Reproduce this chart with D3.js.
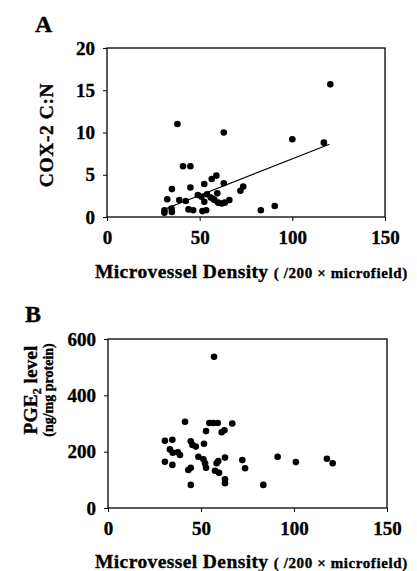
<!DOCTYPE html>
<html>
<head>
<meta charset="utf-8">
<script src="https://cdn.jsdelivr.net/npm/d3@7"></script>
<style>
  body { margin: 0; background: #fff; }
  svg { display: block; font-family: "Liberation Serif", "Times New Roman", serif; font-weight: bold; }
  svg text { stroke: #000; stroke-width: 0.35px; }
  .axis text { font-size: 19px; font-family: "Liberation Serif", serif; font-weight: bold; fill: #000; }
  .axis line, .axis path { stroke: #000; }
</style>
</head>
<body>
<svg id="chart" width="417" height="571"></svg>
<script>
// panel A: COX-2 C:N vs microvessel density
var coxMvd = [120.5, 38, 63, 100, 117, 41, 45, 59, 56.5, 52.5, 63, 35, 45, 73.5, 72,
  32.5, 39, 42.5, 49, 51, 52.5, 56, 57.5, 59.5, 60, 62, 66, 54, 58, 63.5,
  44, 46.5, 51.5, 53.5, 31, 31, 35, 34.8, 83, 90.5];
var coxRatio = [15.7, 11.0, 10.0, 9.2, 8.8, 6.0, 6.0, 4.9, 4.5, 3.9, 4.0, 3.3, 3.5, 3.6, 3.1,
  2.1, 2.0, 1.9, 2.6, 2.4, 1.8, 2.3, 2.1, 2.8, 1.7, 1.6, 2.0, 2.7, 2.0, 1.7,
  0.9, 0.8, 0.7, 0.8, 0.5, 0.8, 0.6, 1.0, 0.8, 1.3];
// fitted line
var fitRange = [32, 120];
var fitSlope = 0.0864, fitIntercept = -1.76;

// panel B: PGE2 level vs microvessel density
var pgeMvd = [57, 41.4, 54.5, 56.6, 59, 66.8, 52.7, 61.1, 62.6, 30.6, 34.6, 44.5, 45.4, 47.2,
  51.6, 33.3, 34.8, 37.5, 38.7, 48.6, 51.3, 52.2, 52.7, 62.9, 59.3, 58.4, 30.6, 34.6,
  43.2, 44.5, 57.5, 59.7, 62.9, 62.9, 44.5, 83.5, 72.2, 73.7, 91.2, 101, 117.7, 120.8];
var pgeLevel = [537, 306, 302, 302, 302, 300, 273, 269, 276, 239, 242, 237, 224, 218,
  228, 208, 196, 198, 188, 182, 173, 159, 143, 179, 167, 159, 164, 153,
  135, 143, 132, 125, 102, 88, 82, 82, 170, 141, 182, 163, 175, 159];

var xTicks = [0, 50, 100, 150];
var coxTicks = [0, 5, 10, 15, 20];
var pgeTicks = [0, 200, 400, 600];

var svg = d3.select('#chart');

function drawPanel(opts) {
    var box = opts.box;
    var x = d3.scaleLinear().domain([0, 150]).range([box.x0, box.x1]);
    var y = d3.scaleLinear().domain(opts.yDomain).range([box.y1, box.y0]);

    // frame
    svg.append('rect')
        .attr('x', box.x0).attr('y', box.y0)
        .attr('width', box.x1 - box.x0).attr('height', box.y1 - box.y0)
        .attr('fill', 'none').attr('stroke', '#000').attr('stroke-width', 1.3);

    svg.append('g')
        .attr('class', 'axis')
        .attr('transform', 'translate(0,' + box.y1 + ')')
        .call(d3.axisBottom(x).tickValues(xTicks).tickSize(4).tickPadding(10))
        .select('.domain').remove();

    svg.append('g')
        .attr('class', 'axis')
        .attr('transform', 'translate(' + box.x0 + ',0)')
        .call(d3.axisLeft(y).tickValues(opts.yTicks).tickSize(4).tickPadding(8))
        .select('.domain').remove();

    if (opts.fit) {
        svg.append('line')
            .attr('x1', x(opts.fit.range[0])).attr('y1', y(opts.fit.a + opts.fit.b * opts.fit.range[0]))
            .attr('x2', x(opts.fit.range[1])).attr('y2', y(opts.fit.a + opts.fit.b * opts.fit.range[1]))
            .attr('stroke', '#000').attr('stroke-width', 1.2);
    }

    svg.append('g').selectAll('circle')
        .data(opts.xs)
      .enter().append('circle')
        .attr('cx', function(d) { return x(d); })
        .attr('cy', function(d, i) { return y(opts.ys[i]); })
        .attr('r', 3.3)
        .attr('fill', '#000');

    // panel letter
    svg.append('text')
        .attr('x', opts.letterPos[0]).attr('y', opts.letterPos[1])
        .attr('font-size', 24)
        .text(opts.letter);

    // x label
    var xl = svg.append('text')
        .attr('x', 95).attr('y', opts.xLabelY);
    xl.append('tspan').attr('font-size', 19.5).attr('letter-spacing', 0.4).text('Microvessel Density ');
    xl.append('tspan').attr('font-size', 15).attr('letter-spacing', 0.6).text('( /200 \u00d7 microfield)');
}

drawPanel({
    box: {x0: 107, x1: 385, y0: 48, y1: 217},
    yDomain: [0, 20], yTicks: coxTicks,
    xs: coxMvd, ys: coxRatio,
    fit: {range: fitRange, a: fitIntercept, b: fitSlope},
    letter: 'A', letterPos: [35, 32], xLabelY: 278
});

drawPanel({
    box: {x0: 108, x1: 387, y0: 339, y1: 508},
    yDomain: [0, 600], yTicks: pgeTicks,
    xs: pgeMvd, ys: pgeLevel,
    letter: 'B', letterPos: [25, 322], xLabelY: 568
});

// y labels
svg.append('text')
    .attr('transform', 'translate(53,135) rotate(-90)')
    .attr('text-anchor', 'middle')
    .attr('font-size', 19.5)
    .attr('letter-spacing', 0.6)
    .text('COX-2 C:N');

var pl = svg.append('text')
    .attr('transform', 'translate(37,390) rotate(-90)')
    .attr('text-anchor', 'middle')
    .attr('font-size', 19.5);
pl.append('tspan').text('PGE');
pl.append('tspan').attr('font-size', 12).attr('dy', 4).text('2');
pl.append('tspan').attr('dy', -4).text(' level');

svg.append('text')
    .attr('transform', 'translate(53,390) rotate(-90)')
    .attr('text-anchor', 'middle')
    .attr('font-size', 14)
    .text('(ng/mg protein)');
</script>
</body>
</html>
